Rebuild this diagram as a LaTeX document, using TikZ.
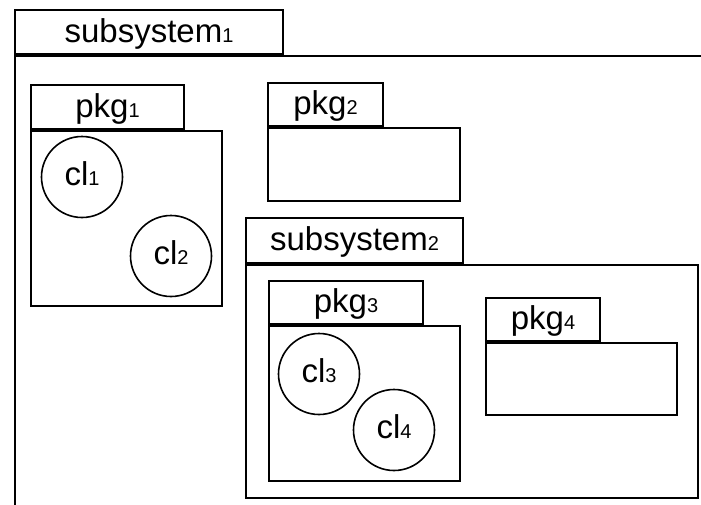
\documentclass[tikz,border=0pt]{standalone}
\usepackage{fontspec}
\setmainfont{Liberation Sans}
\usetikzlibrary{positioning}
\newcommand{\idx}[1]{{\fontsize{20}{20}\selectfont #1}}

\begin{document}
\begin{tikzpicture}[x=1pt,y=-1pt,
    tab/.style={draw, line width=2pt, inner sep=0pt, anchor=north west,
      text height=24pt, text depth=4pt, font=\fontsize{33}{33}\selectfont},
    body/.style={draw, line width=2pt, inner sep=0pt, anchor=north west},
    cls/.style={draw, circle, line width=1.6pt, inner sep=0pt, minimum size=81pt,
      text height=22pt, text depth=6pt, font=\fontsize{33}{33}\selectfont}]
    \clip (0,0) rectangle (701,504);

    % subsystem 1
    \node[tab, minimum width=268pt, minimum height=44pt] (sub1tab) at (14,9) {subsystem\idx{1}};
    \node[body, minimum width=697pt, minimum height=461pt] (sub1) at (sub1tab.south west) {};

    % pkg 1
    \node[tab, minimum width=153pt, minimum height=44pt] (pkg1tab) at (30,84) {pkg\idx{1}};
    \node[body, minimum width=191pt, minimum height=175pt] (pkg1) at (pkg1tab.south west) {};
    \node[cls] (cl1) at (82,177) {cl\idx{1}};
    \node[cls] (cl2) at (171,256) {cl\idx{2}};

    % pkg 2
    \node[tab, minimum width=115pt, minimum height=43pt] (pkg2tab) at (267,82) {pkg\idx{2}};
    \node[body, minimum width=192pt, minimum height=73pt] (pkg2) at (pkg2tab.south west) {};

    % subsystem 2
    \node[tab, minimum width=217pt, minimum height=45pt] (sub2tab) at (245,217) {subsystem\idx{2}};
    \node[body, minimum width=452pt, minimum height=233pt] (sub2) at (sub2tab.south west) {};

    % pkg 3
    \node[tab, minimum width=154pt, minimum height=43pt] (pkg3tab) at (268,280) {pkg\idx{3}};
    \node[body, minimum width=191pt, minimum height=155pt] (pkg3) at (pkg3tab.south west) {};
    \node[cls] (cl3) at (319,374) {cl\idx{3}};
    \node[cls] (cl4) at (394,430) {cl\idx{4}};

    % pkg 4
    \node[tab, minimum width=114pt, minimum height=43pt] (pkg4tab) at (485,297) {pkg\idx{4}};
    \node[body, minimum width=191pt, minimum height=72pt] (pkg4) at (pkg4tab.south west) {};
  \end{tikzpicture}
\end{document}
